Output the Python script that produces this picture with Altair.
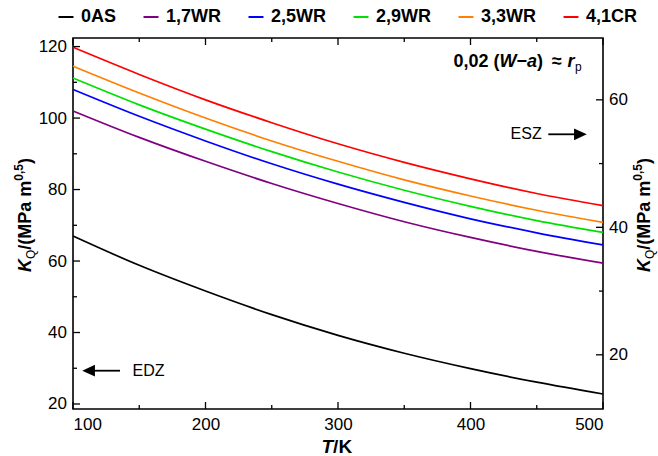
import altair as alt
import pandas as pd

# ---------------- data ----------------
T = [100, 150, 200, 250, 300, 350, 400, 450, 500]
series_names = ["0AS", "1,7WR", "2,5WR", "2,9WR", "3,3WR", "4,1CR"]
k_0AS = [67.0, 58.8, 51.6, 45.0, 39.2, 34.2, 29.9, 26.1, 22.8]
k_17WR = [102.0, 94.6, 87.9, 81.7, 76.1, 71.0, 66.6, 62.7, 59.4]
k_25WR = [108.0, 100.5, 93.6, 87.2, 81.5, 76.4, 71.8, 67.9, 64.5]
k_29WR = [111.2, 103.7, 96.9, 90.6, 84.9, 79.8, 75.3, 71.3, 68.0]
k_33WR = [114.5, 107.0, 100.0, 93.6, 87.9, 82.7, 78.2, 74.2, 70.8]
k_41CR = [119.8, 112.2, 105.1, 98.7, 92.8, 87.6, 83.0, 78.9, 75.5]
series_colors = ["#000000", "#800080", "#0000FF", "#00E000", "#FF8000", "#FF0000"]

x_major = [100, 200, 300, 400, 500]
x_minor = [150, 250, 350, 450]
yl_major = [20, 40, 60, 80, 100, 120]
yl_minor = [30, 50, 70, 90, 110]
yr_major = [20, 40, 60]
yr_minor = [30, 50]

x_domain = [100, 500]
yl_domain = [18.6, 122.4]
yr_domain = [11.5, 69.7]

# ---------------- layout ----------------
W, H = 530, 371
PAD = {"left": 73, "top": 38, "right": 55, "bottom": 47}
FONT = "Liberation Sans"
MAJ, MIN = 7, 4

rows = []
for name, vals in zip(series_names, [k_0AS, k_17WR, k_25WR, k_29WR, k_33WR, k_41CR]):
    for t, v in zip(T, vals):
        rows.append({"T": t, "K": v, "series": name})
curves_df = pd.DataFrame(rows)

xs = alt.Scale(domain=x_domain, nice=False, zero=False)
yls = alt.Scale(domain=yl_domain, nice=False, zero=False)
yrs = alt.Scale(domain=yr_domain, nice=False, zero=False)

x_axis = alt.Axis(values=x_major, title=None, labelFlush=True, labelOverlap=False,
                  labelPadding=7.5, tickSize=0, ticks=False, domain=False, grid=False)
yl_axis = alt.Axis(values=yl_major, title=None, labelPadding=6.5, labelOverlap=False,
                   tickSize=0, ticks=False, domain=False, grid=False, orient="left")
yr_axis = alt.Axis(values=yr_major, title=None, orient="right", labelPadding=5.5, tickSize=0,
                   ticks=False, domain=False, grid=False, labelOverlap=False)

curves = alt.Chart(curves_df).mark_line(strokeWidth=1.7, interpolate="monotone").encode(
    x=alt.X("T:Q", scale=xs, axis=x_axis),
    y=alt.Y("K:Q", scale=yls, axis=yl_axis),
    color=alt.Color("series:N", sort=series_names,
                    scale=alt.Scale(domain=series_names, range=series_colors),
                    legend=alt.Legend(orient="none", legendX=-16, legendY=-30, direction="horizontal",
                                      columns=6, symbolType="stroke", symbolSize=225,
                                      symbolStrokeWidth=2, labelFont=FONT, labelFontWeight="bold",
                                      labelFontSize=18, labelOffset=6, columnPadding=22,
                                      title=None, padding=0, labelColor="black")),
    order=alt.Order("T:Q"),
)


def xticks(vals, length, top):
    d = pd.DataFrame({"T": vals})
    if top:
        yy = dict(y=alt.value(0), y2=alt.value(length))
    else:
        yy = dict(y=alt.value(H), y2=alt.value(H - length))
    return alt.Chart(d).mark_rule(color="black", strokeWidth=1.3).encode(
        x=alt.X("T:Q", scale=xs, axis=x_axis), **yy)


def lticks(vals, length):
    d = pd.DataFrame({"K": vals})
    return alt.Chart(d).mark_rule(color="black", strokeWidth=1.3).encode(
        y=alt.Y("K:Q", scale=yls, axis=yl_axis), x=alt.value(0), x2=alt.value(length))


def rticks(vals, length):
    d = pd.DataFrame({"K2": vals})
    return alt.Chart(d).mark_rule(color="black", strokeWidth=1.3).encode(
        y=alt.Y("K2:Q", scale=yrs, axis=yr_axis), x=alt.value(W), x2=alt.value(W - length))


BOLD_W = {'0': 556, '1': 556, '2': 556, '5': 556, ',': 278, ' ': 278, '(': 333, ')': 333,
          '/': 278, 'W': 944, 'a': 556, '−': 584, '≈': 584, 'r': 389, 'K': 722, 'M': 833,
          'P': 667, 'm': 889, 'T': 611}
REG_W = {'Q': 778, 'p': 556}


def tw(s, size, bold):
    tbl = BOLD_W if bold else REG_W
    return sum(tbl.get(c, 556) for c in s) * size / 1000.0


def rich(pieces, x0, y0, angle=0):
    """pieces: (text, size, bold, italic, shift[, gap]). Places pieces one after another."""
    layers = []
    off = 0.0
    for p in pieces:
        text, size, bold, italic, shift = p[:5]
        gap = p[5] if len(p) > 5 else 0.0
        off += gap
        d = pd.DataFrame({"t": [text]})
        kw = dict(font=FONT, fontSize=size, fontWeight="bold" if bold else "normal",
                  fontStyle="italic" if italic else "normal", align="left",
                  baseline="alphabetic", color="black")
        if angle:
            m = alt.Chart(d).mark_text(angle=angle, dx=off, dy=shift, **kw).encode(
                text="t:N", x=alt.value(x0), y=alt.value(y0))
        else:
            m = alt.Chart(d).mark_text(dy=shift, **kw).encode(
                text="t:N", x=alt.value(x0 + off), y=alt.value(y0))
        layers.append(m)
        off += tw(text, size, bold)
    return layers


ytitle = [("K", 18, True, True, 0), ("Q", 12, False, False, 4), ("/(MPa m", 18, True, False, 0),
          ("0,5", 12, True, False, -8), (")", 18, True, False, 0)]
left_title = rich(ytitle, 31 - PAD["left"], 272 - PAD["top"], angle=270)
right_title = rich(ytitle, 650 - PAD["left"], 272 - PAD["top"], angle=270)

xtitle = rich([("T", 19, True, True, 0), ("/K", 19, True, False, 0)], 321.5 - PAD["left"],
              452.5 - PAD["top"])

annot = rich([("0,02 (", 18, True, False, 0), ("W", 18, True, True, 0), ("−", 18, True, False, 0),
              ("a", 18, True, True, 0), (")", 18, True, False, 0), ("≈", 18, True, False, 0, 9),
              ("r", 18, True, True, 0, 5), ("p", 12, False, False, 4, 0.5)],
             453.5 - PAD["left"], 67 - PAD["top"])

# arrows and their labels
lab_df = pd.DataFrame({"t": ["EDZ", "ESZ"]})
edz_text = alt.Chart(lab_df.iloc[[0]]).mark_text(font=FONT, fontSize=16, align="left",
                                                 baseline="middle", color="black").encode(
    text="t:N", x=alt.value(132.5 - PAD["left"]), y=alt.value(370.7 - PAD["top"]))
esz_text = alt.Chart(lab_df.iloc[[1]]).mark_text(font=FONT, fontSize=16, align="right",
                                                 baseline="middle", color="black").encode(
    text="t:N", x=alt.value(541.7 - PAD["left"]), y=alt.value(134.3 - PAD["top"]))

arrow_df = pd.DataFrame({"a": ["EDZ", "ESZ"]})
edz_line = alt.Chart(arrow_df.iloc[[0]]).mark_rule(color="black", strokeWidth=1.8).encode(
    x=alt.value(94 - PAD["left"]), x2=alt.value(120 - PAD["left"]), y=alt.value(370.7 - PAD["top"]))
esz_line = alt.Chart(arrow_df.iloc[[1]]).mark_rule(color="black", strokeWidth=1.8).encode(
    x=alt.value(548.3 - PAD["left"]), x2=alt.value(576 - PAD["left"]), y=alt.value(134.3 - PAD["top"]))
HEAD_L = "M -1 0 L 1 -0.92 L 1 0.92 Z"
HEAD_R = "M 1 0 L -1 -0.92 L -1 0.92 Z"
edz_head = alt.Chart(arrow_df.iloc[[0]]).mark_point(shape=HEAD_L, filled=True, size=161,
                                                    color="black", opacity=1).encode(
    x=alt.value(88.6 - PAD["left"]), y=alt.value(370.7 - PAD["top"]))
esz_head = alt.Chart(arrow_df.iloc[[1]]).mark_point(shape=HEAD_R, filled=True, size=161,
                                                    color="black", opacity=1).encode(
    x=alt.value(580.4 - PAD["left"]), y=alt.value(134.3 - PAD["top"]))

left_group = alt.layer(
    curves,
    xticks(x_major, MAJ, False), xticks(x_minor, MIN, False),
    xticks(x_major, MAJ, True), xticks(x_minor, MIN, True),
    lticks(yl_major, MAJ), lticks(yl_minor, MIN),
    edz_line, edz_head, edz_text, esz_line, esz_head, esz_text,
    *annot, *left_title, *right_title, *xtitle,
)

right_group = alt.layer(
    rticks(yr_major, MAJ),
    rticks(yr_minor, MIN),
)

chart = alt.layer(left_group, right_group).resolve_scale(y="independent").properties(
    width=W, height=H, autosize=alt.AutoSizeParams(type="none"), padding=PAD,
).configure_axis(
    labelFont=FONT, labelFontSize=17, labelColor="black", grid=False, domain=False, ticks=False,
).configure_view(stroke="black", strokeWidth=1.6)

chart.save("out.html", embed_options={"renderer": "svg", "actions": False})
